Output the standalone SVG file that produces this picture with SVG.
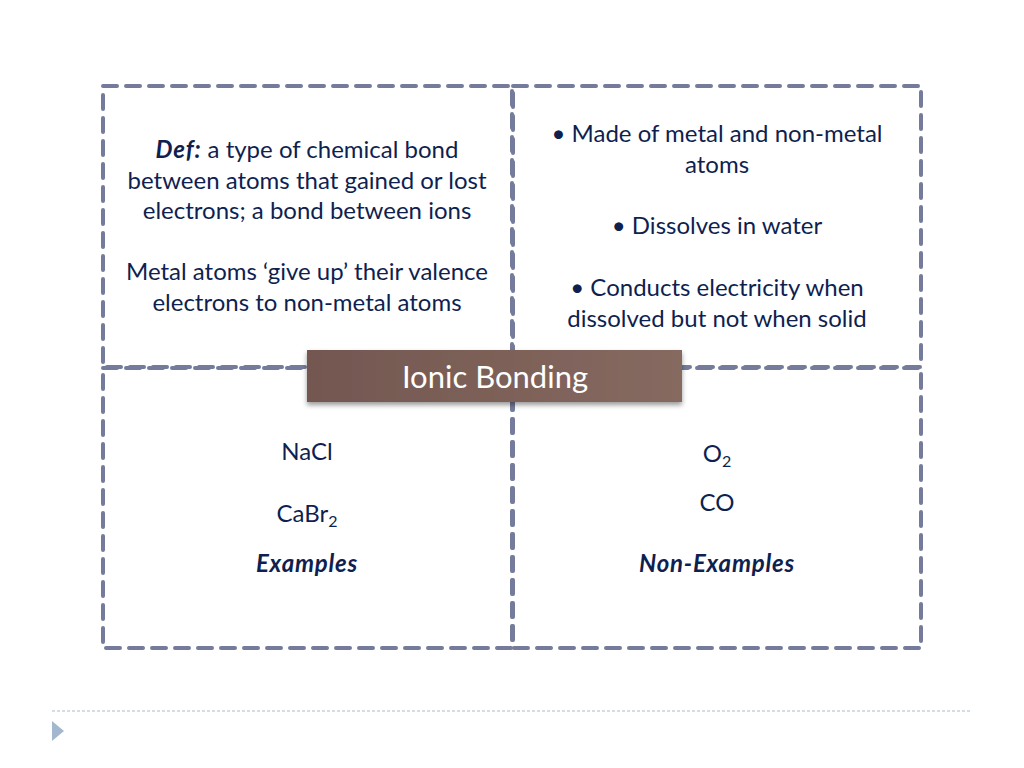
<svg xmlns="http://www.w3.org/2000/svg" width="1024" height="768" viewBox="0 0 1024 768">
<style>
.q{fill:none;stroke:#757c9b;stroke-width:4;stroke-dasharray:14 9;stroke-linecap:round}
.t{font-family:Lato,"Open Sans","Liberation Sans",sans-serif;font-size:24px;fill:#0f1f50;text-anchor:middle}
.bi{font-weight:bold;font-style:italic;letter-spacing:0.8px}
</style>
<defs>
<linearGradient id="g" x1="0" y1="0" x2="1" y2="0">
<stop offset="0" stop-color="#735750"/>
<stop offset="1" stop-color="#866a60"/>
</linearGradient>
<filter id="sh" x="-5%" y="-30%" width="110%" height="170%">
<feDropShadow dx="0" dy="3" stdDeviation="2.5" flood-color="#000" flood-opacity="0.4"/>
</filter>
</defs>
<rect width="1024" height="768" fill="#fff"/>
<g id="q-definition">
<rect class="q" x="103" y="86" width="409" height="281"/>
<text class="t" x="307" y="158"><tspan class="bi" letter-spacing="0">Def:</tspan> a type of chemical bond</text>
<text class="t" x="307" y="189">between atoms that gained or lost</text>
<text class="t" x="307" y="219">electrons; a bond between ions</text>
<text class="t" x="307" y="280">Metal atoms ‘give up’ their valence</text>
<text class="t" x="307" y="311">electrons to non-metal atoms</text>
</g>
<g id="q-characteristics">
<rect class="q" x="513" y="86" width="408" height="281"/>
<text class="t" x="717" y="142">• Made of metal and non-metal</text>
<text class="t" x="717" y="173">atoms</text>
<text class="t" x="717" y="234">• Dissolves in water</text>
<text class="t" x="717" y="296">• Conducts electricity when</text>
<text class="t" x="717" y="327">dissolved but not when solid</text>
</g>
<g id="q-examples">
<rect class="q" x="103" y="368" width="409" height="280"/>
<text class="t" x="307" y="460">NaCl</text>
<text class="t" x="307" y="522">CaBr<tspan font-size="16" dy="5">2</tspan></text>
<text class="t bi" x="307" y="572">Examples</text>
</g>
<g id="q-nonexamples">
<rect class="q" x="513" y="368" width="408" height="280"/>
<text class="t" x="717" y="462">O<tspan font-size="16" dy="5">2</tspan></text>
<text class="t" x="717" y="511">CO</text>
<text class="t bi" x="717" y="572">Non-Examples</text>
</g>
<g id="center">
<rect x="307" y="350" width="375" height="52" fill="url(#g)" filter="url(#sh)"/>
<text x="495" y="388" font-family="Lato,'Open Sans','Liberation Sans',sans-serif" font-size="31" fill="#fff" text-anchor="middle">Ionic Bonding</text>
</g>
<g id="footer">
<line x1="52" y1="711" x2="972" y2="711" stroke="#a9bcd0" stroke-width="1" stroke-dasharray="3 2"/>
<polygon points="52,721 64,731 52,741" fill="#a3b8cf"/>
</g>
</svg>
